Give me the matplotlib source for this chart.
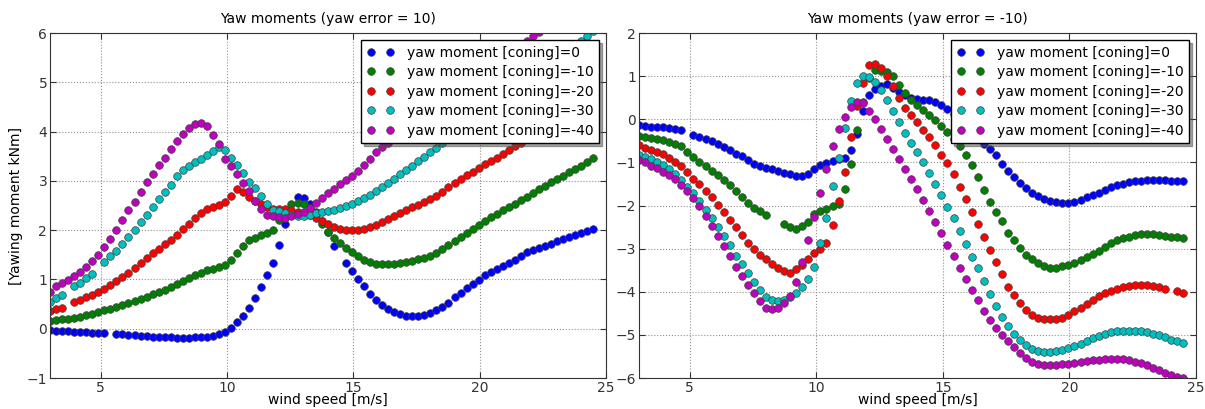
import numpy as np
import matplotlib.pyplot as plt

nan = np.nan

# wind speed grid [m/s]
wind_speed = np.linspace(3.0, 24.5, 91)
coning = [0, -10, -20, -30, -40]
colors = ['#0000ff', '#008000', '#ff0000', '#00bfbf', '#bf00bf']

# yaw error = 10
yaw_pos_c0 = [
    -0.03, -0.04, -0.04, -0.05, -0.06, -0.06, -0.07, -0.08, -0.08, -0.09,
    nan, -0.10, -0.11, -0.12, -0.13, -0.14, -0.15, -0.16, -0.16, -0.17,
    -0.17, -0.18, -0.18, -0.18, -0.17, -0.17, -0.16, -0.14, -0.11, -0.06,
    0.01, 0.13, 0.26, 0.42, 0.62, 0.85, 1.08, 1.33, 1.69, 2.12,
    nan, 2.68, 2.65, 2.54, 2.36, 2.18, 1.97, 1.68, nan, 1.33,
    1.17, 1.01, 0.87, 0.70, 0.58, 0.48, 0.40, 0.33, 0.29, 0.26,
    0.25, 0.25, 0.27, 0.31, 0.37, 0.45, 0.53, 0.64, 0.73, 0.82,
    0.90, 0.99, 1.08, 1.15, 1.22, 1.28, 1.34, 1.40, 1.48, 1.55,
    1.60, 1.64, 1.68, 1.72, 1.77, 1.82, 1.86, 1.91, 1.95, 1.99,
    2.02]
yaw_pos_c10 = [
    0.15, 0.17, 0.19, 0.20, 0.22, 0.24, 0.27, 0.30, 0.34, 0.38,
    0.41, 0.45, 0.48, 0.52, 0.56, 0.60, 0.65, 0.70, 0.74, 0.79,
    0.84, 0.90, 0.97, 1.03, 1.09, 1.14, 1.19, 1.21, 1.25, 1.30,
    1.40, 1.53, 1.67, 1.80, 1.85, 1.91, 1.95, 2.01, 2.20, 2.40,
    2.54, 2.55, 2.53, 2.45, 2.30, 2.12, 1.97, 1.85, 1.73, 1.64,
    1.55, 1.47, 1.40, 1.35, 1.32, 1.31, 1.31, 1.32, 1.34, 1.36,
    1.38, 1.41, 1.44, 1.48, 1.54, 1.61, 1.69, 1.77, 1.86, 1.95,
    2.03, 2.11, 2.19, 2.26, 2.33, 2.40, 2.47, 2.54, 2.61, 2.68,
    2.76, 2.83, 2.90, 2.97, 3.03, 3.10, 3.17, 3.24, 3.31, 3.39,
    3.46]
yaw_pos_c20 = [
    0.35, 0.39, 0.42, nan, 0.54, 0.59, 0.64, 0.69, 0.75, 0.81,
    0.89, 0.97, 1.05, 1.14, 1.23, 1.33, 1.43, 1.53, 1.62, 1.71,
    1.81, 1.91, 2.02, 2.13, 2.24, 2.34, 2.42, 2.46, 2.51, 2.58,
    2.69, 2.84, 2.77, 2.68, 2.60, 2.54, 2.47, 2.43, 2.42, 2.43,
    2.41, 2.37, 2.35, 2.31, 2.25, 2.18, 2.12, 2.07, 2.03, 2.01,
    2.01, 2.01, 2.03, 2.07, 2.11, 2.16, 2.22, 2.28, 2.34, 2.40,
    2.46, 2.51, 2.57, 2.63, 2.70, 2.78, 2.87, 2.95, 3.03, 3.11,
    3.18, 3.26, 3.34, 3.40, 3.47, 3.54, 3.62, 3.70, 3.77, 3.85,
    3.92, 4.00, 4.07, 4.15, 4.22, 4.30, 4.37, 4.45, 4.52, 4.60,
    4.67]
yaw_pos_c30 = [
    0.55, 0.62, 0.69, nan, 0.86, 0.93, 1.02, 1.12, nan, 1.35,
    1.48, 1.57, 1.72, 1.86, 2.01, 2.16, 2.30, 2.47, 2.63, 2.78,
    2.92, 3.09, 3.23, 3.31, 3.38, 3.45, 3.52, 3.60, 3.69, 3.62,
    3.47, 3.33, 3.16, 2.98, 2.85, 2.69, 2.53, 2.40, 2.38, 2.35,
    2.31, 2.28, 2.28, 2.30, 2.34, 2.36, 2.38, 2.40, 2.44, 2.48,
    2.53, 2.59, 2.65, 2.72, 2.79, 2.87, 2.95, 3.04, 3.13, 3.22,
    3.31, 3.40, 3.49, 3.58, 3.67, 3.76, 3.85, 3.94, 4.03, 4.12,
    4.21, 4.30, 4.39, 4.48, 4.57, 4.66, 4.75, 4.84, 4.93, 5.02,
    5.11, 5.20, 5.29, 5.38, 5.47, 5.56, 5.65, 5.74, 5.84, 5.94,
    6.04]
yaw_pos_c40 = [
    0.74, 0.86, 0.92, 0.99, 1.07, 1.15, 1.25, 1.38, 1.50, 1.66,
    1.83, 2.01, 2.20, 2.40, 2.58, 2.77, 2.98, 3.14, 3.32, 3.47,
    3.65, 3.81, 3.96, 4.07, 4.15, 4.18, 4.12, 3.93, 3.74, 3.45,
    3.30, 3.13, 2.96, 2.79, 2.60, 2.43, 2.31, 2.28, 2.26, 2.25,
    2.28, 2.32, 2.37, 2.45, 2.56, 2.66, 2.75, 2.84, 2.93, 3.02,
    3.10, 3.21, 3.33, 3.45, 3.58, 3.68, 3.77, 3.86, 3.95, 4.04,
    4.13, 4.22, 4.31, 4.40, 4.49, 4.58, 4.67, 4.76, 4.85, 4.94,
    5.03, 5.12, 5.21, 5.30, 5.39, 5.48, 5.57, 5.66, 5.75, 5.84,
    5.93, 6.02, 6.11, 6.20, 6.29, 6.38, 6.47, 6.56, 6.65, 6.74,
    6.83]

# yaw error = -10
yaw_neg_c0 = [
    -0.14, -0.16, -0.17, -0.17, -0.19, -0.21, -0.23, -0.25, nan, -0.37,
    -0.40, -0.45, -0.51, -0.58, -0.64, -0.72, -0.80, -0.86, -0.94, -1.03,
    -1.08, -1.12, -1.16, -1.20, -1.24, -1.28, -1.31, -1.31, -1.26, -1.16,
    -1.06, -1.01, -0.97, -0.92, -0.90, -0.71, -0.35, 0.18, 0.56, 0.70,
    0.77, 0.81, 0.72, 0.64, 0.56, 0.50, 0.46, 0.45, 0.44, 0.41,
    0.33, 0.24, 0.12, -0.01, -0.15, -0.29, -0.43, -0.57, -0.70, -0.84,
    -1.04, -1.19, -1.33, -1.47, -1.59, -1.70, -1.77, -1.86, -1.89, -1.93,
    -1.95, -1.95, -1.92, -1.87, -1.81, -1.75, -1.70, -1.64, -1.57, -1.52,
    -1.49, -1.46, -1.44, -1.43, -1.42, -1.42, -1.42, -1.42, -1.43, -1.43,
    -1.43]
yaw_neg_c10 = [
    -0.38, -0.41, -0.44, -0.46, -0.49, -0.53, -0.58, -0.62, -0.75, -0.87,
    -0.98, -1.08, -1.20, -1.30, -1.41, -1.53, -1.67, -1.80, -1.94, -2.06,
    -2.13, -2.21, nan, nan, -2.43, -2.51, -2.54, -2.47, -2.38, -2.20,
    -2.12, -2.07, -2.02, -1.97, -1.62, -1.03, -0.24, 0.40, 0.95, 1.15,
    1.12, 1.10, 1.00, 0.80, 0.62, 0.45, 0.32, 0.22, 0.10, -0.02,
    -0.15, -0.30, -0.45, -0.62, -0.82, -1.05, -1.33, -1.63, -1.92, -2.16,
    -2.37, -2.63, -2.80, -2.98, -3.15, -3.24, -3.33, -3.40, -3.44, -3.44,
    -3.41, -3.39, -3.34, -3.27, -3.20, -3.13, -3.05, -2.97, -2.88, -2.81,
    -2.76, -2.72, -2.69, -2.67, -2.67, -2.67, -2.68, -2.70, -2.72, -2.74,
    -2.76]
yaw_neg_c20 = [
    -0.60, -0.66, -0.72, -0.76, -0.81, -0.89, -0.98, -1.09, -1.22, -1.38,
    -1.51, -1.66, -1.81, -1.99, -2.16, -2.34, -2.51, -2.69, -2.86, -3.01,
    -3.14, -3.25, -3.35, -3.45, -3.52, -3.56, -3.48, -3.39, -3.24, -3.11,
    -3.00, -2.88, -2.45, -1.90, -1.22, -0.40, 0.30, 0.85, 1.26, 1.29,
    1.20, 1.00, 0.76, 0.50, 0.27, 0.09, -0.07, -0.26, -0.42, -0.60,
    -0.83, -1.02, -1.28, -1.57, -1.86, -2.15, -2.44, -2.74, -3.03, -3.30,
    -3.58, -3.88, -4.08, -4.26, -4.42, -4.53, -4.61, -4.64, -4.64, -4.64,
    -4.60, -4.53, -4.45, -4.38, -4.29, -4.20, -4.11, -4.04, -3.98, -3.93,
    -3.89, -3.86, -3.84, -3.84, -3.85, -3.86, -3.88, -3.93, nan, -3.99,
    -4.02]
yaw_neg_c30 = [
    -0.82, -0.87, -0.92, -0.99, -1.05, -1.16, -1.28, -1.41, -1.56, -1.71,
    -1.89, -2.10, -2.29, -2.51, -2.71, -2.92, -3.16, -3.36, -3.57, -3.77,
    -3.96, -4.12, -4.20, -4.22, -4.19, -4.13, -4.02, -3.89, -3.70, -3.42,
    -2.88, -2.28, -1.55, -0.90, -0.20, 0.42, 0.85, 1.01, 0.99, 0.87,
    0.68, 0.44, 0.18, -0.06, -0.31, -0.54, -0.77, -1.00, -1.24, -1.50,
    -1.76, -2.03, -2.30, -2.60, -2.90, -3.20, -3.45, -3.75, -4.05, -4.33,
    -4.58, -4.80, -4.97, -5.11, -5.24, -5.33, -5.37, -5.40, -5.40, -5.38,
    -5.35, -5.31, -5.26, -5.20, -5.14, -5.08, -5.02, -4.98, -4.94, -4.92,
    -4.91, -4.90, -4.90, -4.91, -4.93, -4.97, -5.01, -5.06, -5.11, -5.15,
    -5.18]
yaw_neg_c40 = [
    -0.95, -1.00, -1.08, -1.14, -1.22, -1.30, -1.38, -1.53, -1.66, -1.82,
    -2.02, -2.24, -2.47, -2.71, -2.93, -3.17, -3.43, -3.63, -3.84, -4.04,
    -4.22, -4.37, -4.41, -4.38, -4.27, -4.10, -3.78, -3.32, -2.80, -2.27,
    -1.72, -1.16, -0.62, -0.22, 0.06, 0.29, 0.39, 0.38, 0.20, 0.00,
    -0.22, -0.46, -0.70, -0.93, -1.15, -1.38, -1.62, -1.87, -2.13, -2.38,
    -2.64, -2.91, -3.17, -3.44, -3.70, -3.95, -4.20, -4.44, -4.66, -4.84,
    -5.01, -5.15, -5.29, -5.42, -5.53, -5.62, -5.67, -5.70, -5.70, -5.70,
    -5.68, -5.67, -5.65, -5.63, -5.61, -5.59, -5.58, -5.57, -5.56, -5.56,
    -5.57, -5.59, -5.62, -5.66, -5.71, -5.77, -5.82, -5.88, -5.93, -5.97,
    -6.01]

yaw_pos = [yaw_pos_c0, yaw_pos_c10, yaw_pos_c20, yaw_pos_c30, yaw_pos_c40]
yaw_neg = [yaw_neg_c0, yaw_neg_c10, yaw_neg_c20, yaw_neg_c30, yaw_neg_c40]

plt.rcParams['font.family'] = 'DejaVu Sans'
plt.rcParams['font.size'] = 10

fig = plt.figure(figsize=(12.05, 4.09), dpi=100)
ax1 = fig.add_axes([50 / 1205, 1 - 378 / 409, 556 / 1205, 345 / 409])
ax2 = fig.add_axes([639 / 1205, 1 - 378 / 409, 557 / 1205, 345 / 409])


def draw_panel(ax, series, title, ylim):
    for vals, c, cn in zip(series, colors, coning):
        ax.plot(wind_speed, vals, 'o', color=c, markersize=5.5, markeredgecolor='#404040',
                markeredgewidth=0.5, label='yaw moment [coning]=%d' % cn)
    ax.set_xlim(3, 25)
    ax.set_ylim(*ylim)
    ax.set_xticks([5, 10, 15, 20, 25])
    ax.set_yticks(range(ylim[0], ylim[1] + 1))
    ax.grid(True, color='#909090', linestyle=':', linewidth=0.8)
    ax.tick_params(direction='in', top=True, right=True, length=4, pad=2, colors='#333333')
    for s in ax.spines.values():
        s.set_color('#333333')
    ax.set_title(title, fontsize=10, pad=7)
    ax.set_xlabel('wind speed [m/s]', fontsize=10, labelpad=-1)
    leg = ax.legend(loc='upper right', numpoints=2, fancybox=False, shadow=True, framealpha=1,
                    edgecolor='k', fontsize=10, borderaxespad=0.5, borderpad=0.4,
                    handlelength=2.0, handletextpad=0.9, labelspacing=0.4)
    leg.get_frame().set_linewidth(1.0)


draw_panel(ax1, yaw_pos, 'Yaw moments (yaw error = 10)', (-1, 6))
draw_panel(ax2, yaw_neg, 'Yaw moments (yaw error = -10)', (-6, 2))
ax1.set_ylabel('[Yawing moment kNm]', fontsize=10, labelpad=3)

fig.savefig('out.png', dpi=100)
